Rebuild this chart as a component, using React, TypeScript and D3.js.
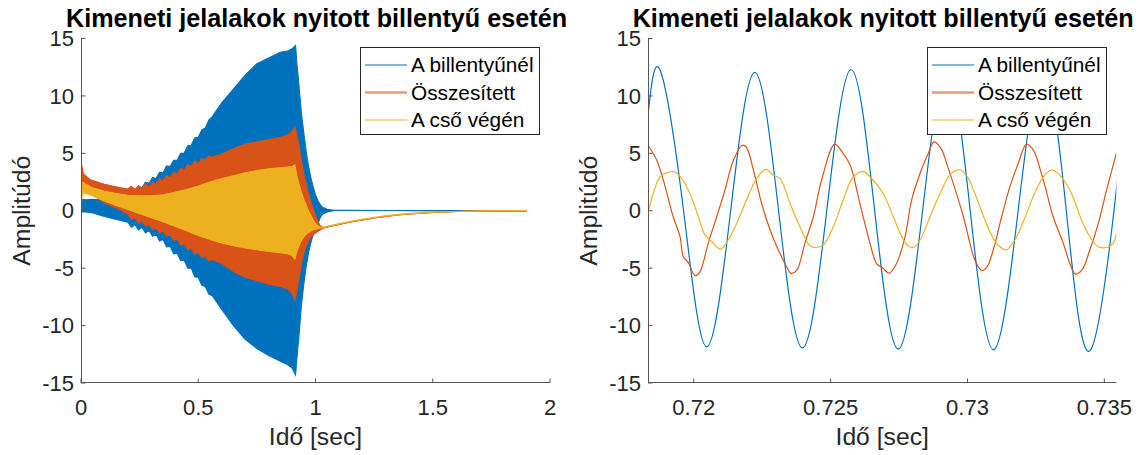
import React from "react";
import * as d3 from "d3";

// ---------- Left chart: envelopes of dense signals ----------
const blueT = [0, 0.004, 0.02, 0.05, 0.1, 0.15, 0.2,
  0.215, 0.23, 0.245, 0.26, 0.275, 0.29, 0.305, 0.32, 0.335, 0.35, 0.365, 0.38, 0.395, 0.41, 0.425, 0.44, 0.455, 0.47, 0.485, 0.5, 0.515, 0.53, 0.545, 0.56,
  0.6, 0.65, 0.7, 0.75, 0.8, 0.85, 0.88, 0.9, 0.915,
  0.92, 0.93, 0.94, 0.95, 0.96, 0.97, 0.98, 0.99, 1.0, 1.01, 1.02, 1.03,
  1.05, 1.08, 1.15, 1.3, 1.5, 1.9];
const blueUpper = [0.9, 1.0, 0.95, 1.0, 0.9, 1.0, 1.3,
  1.75, 1.6, 2.1, 2.0, 2.5, 2.4, 2.9, 2.8, 3.35, 3.3, 3.9, 3.85, 4.4, 4.4, 5.0, 5.0, 5.65, 5.7, 6.35, 6.4, 7.05, 7.2, 7.9, 8.2,
  9.4, 10.6, 11.8, 12.8, 13.3, 13.8, 13.9, 14.1, 14.4,
  13.0, 10.8, 8.5, 6.8, 5.2, 3.9, 2.9, 2.1, 1.4, 0.9, 0.55, 0.3,
  0.12, 0.05, 0.03, 0.02, 0.01, 0];
const blueLower = [-0.3, -0.1, -0.1, -0.2, -0.5, -0.75, -1.0,
  -1.45, -1.2, -1.68, -1.45, -1.93, -1.7, -2.23, -2.05, -2.63, -2.5, -3.15, -3.1, -3.75, -3.7, -4.35, -4.3, -5.0, -5.0, -5.75, -5.8, -6.5, -6.6, -7.25, -7.4,
  -8.6, -10.0, -11.2, -12.0, -12.6, -13.1, -13.4, -13.7, -14.3,
  -13.0, -10.8, -8.2, -6.4, -4.9, -3.7, -2.8, -2.1, -1.6, -1.2, -0.6, -0.3,
  -0.1, 0.02, 0.02, 0.02, 0.01, 0];

const orangeT = [0, 0.003, 0.01, 0.04, 0.1, 0.17, 0.2,
  0.215, 0.23, 0.245, 0.26, 0.275, 0.29, 0.305, 0.32, 0.335, 0.35, 0.365, 0.38, 0.395, 0.41, 0.425, 0.44, 0.455, 0.47, 0.485, 0.5, 0.515, 0.53, 0.545, 0.56,
  0.6, 0.65, 0.7, 0.75, 0.8, 0.85, 0.88, 0.9, 0.912,
  0.92, 0.93, 0.94, 0.95, 0.96, 0.97, 0.98, 0.99, 1.0, 1.01, 1.02, 1.03,
  1.05, 1.1, 1.15, 1.2, 1.25, 1.3, 1.35, 1.4, 1.5, 1.6, 1.7, 1.8, 1.9];
const orangeUpper = [0.2, 4.0, 3.2, 2.7, 2.3, 2.0, 1.9,
  2.13, 1.85, 2.2, 1.95, 2.35, 2.05, 2.53, 2.3, 2.8, 2.6, 3.08, 2.85, 3.38, 3.2, 3.7, 3.5, 4.03, 3.85, 4.33, 4.1, 4.55, 4.4, 4.78, 4.65,
  4.95, 5.4, 5.8, 6.0, 6.2, 6.4, 6.6, 6.9, 7.3,
  6.6, 5.6, 4.3, 3.2, 2.3, 1.5, 0.8, 0.2, -0.4, -0.9, -1.3, -1.45,
  -1.42, -1.2, -0.98, -0.8, -0.63, -0.49, -0.37, -0.28, -0.15, -0.07, -0.03, -0.01, 0];
const orangeLower = [0.2, 2.0, 1.8, 1.5, 0.7, 0.05, -0.3,
  -0.75, -0.6, -1.08, -0.85, -1.35, -1.15, -1.65, -1.45, -1.95, -1.75, -2.25, -2.05, -2.6, -2.45, -3.0, -2.85, -3.4, -3.25, -3.78, -3.6, -4.08, -3.95, -4.35, -4.25,
  -4.6, -5.3, -5.8, -6.1, -6.4, -6.6, -6.8, -7.2, -7.8,
  -7.0, -5.8, -4.6, -3.7, -3.1, -2.6, -2.3, -2.1, -1.95, -1.8, -1.65, -1.55,
  -1.42, -1.2, -0.98, -0.8, -0.63, -0.49, -0.37, -0.28, -0.15, -0.07, -0.03, -0.01, 0];

const yellowT = [0, 0.004, 0.008, 0.02, 0.05, 0.1, 0.15, 0.2, 0.25, 0.3, 0.35, 0.4, 0.45, 0.5, 0.55, 0.6, 0.65, 0.7, 0.75, 0.8, 0.85, 0.88, 0.9, 0.912,
  0.92, 0.93, 0.94, 0.95, 0.96, 0.97, 0.98, 0.99, 1.0, 1.01, 1.02, 1.03,
  1.05, 1.1, 1.15, 1.2, 1.25, 1.3, 1.35, 1.4, 1.5, 1.6, 1.7, 1.8, 1.9];
const yellowUpper = [0, 1.8, 2.5, 2.3, 2.0, 1.7, 1.5, 1.35, 1.3, 1.3, 1.4, 1.6, 1.85, 2.15, 2.5, 2.8, 3.05, 3.3, 3.5, 3.65, 3.75, 3.8, 3.85, 4.0,
  3.1, 2.3, 1.6, 1.0, 0.5, 0.0, -0.4, -0.8, -1.1, -1.3, -1.42, -1.45,
  -1.36, -1.14, -0.93, -0.75, -0.59, -0.45, -0.34, -0.25, -0.13, -0.06, -0.02, 0, 0];
const yellowLower = [0, 1.2, 1.6, 1.5, 1.3, 0.85, 0.45, 0.1, -0.25, -0.6, -0.95, -1.35, -1.75, -2.15, -2.5, -2.8, -3.05, -3.25, -3.4, -3.55, -3.65, -3.75, -3.9, -4.2,
  -3.6, -3.0, -2.6, -2.3, -2.05, -1.9, -1.78, -1.68, -1.6, -1.55, -1.5, -1.47,
  -1.36, -1.14, -0.93, -0.75, -0.59, -0.45, -0.34, -0.25, -0.13, -0.06, -0.02, 0, 0];

// ---------- Right chart: zoomed waveforms ----------
const blueZT = [0.71833, 0.71878, 0.71963, 0.72047, 0.72135, 0.72223, 0.7231, 0.72397, 0.72486, 0.72575, 0.72661, 0.72747, 0.72836, 0.72925, 0.7301, 0.73095, 0.73185, 0.73275, 0.73361, 0.73447, 0.73535, 0.73544];
const blueZV = [8.3, 12.2, 0, -11.85, 0, 12.05, 0, -11.95, 0, 12.3, 0, -12.05, 0, 12.3, 0, -12.1, 0, 12.3, 0, -12.2, 0, 1.95];

const orangeZT = [0.71835, 0.71865, 0.71889, 0.71925, 0.7195, 0.71962, 0.7198, 0.72005, 0.72023, 0.72053, 0.72084, 0.72114, 0.72145, 0.72177, 0.72192, 0.72218, 0.72248, 0.72279, 0.72303, 0.72321, 0.7234, 0.72355, 0.72376, 0.72406, 0.72437, 0.72467, 0.72515, 0.7254, 0.72571, 0.72607, 0.72644, 0.72668, 0.72692, 0.72714, 0.72741, 0.72772, 0.72796, 0.72827, 0.72857, 0.72878, 0.72906, 0.72924, 0.72948, 0.72985, 0.73009, 0.73027, 0.73052, 0.7307, 0.73094, 0.73125, 0.73155, 0.73185, 0.73216, 0.7324, 0.73277, 0.73313, 0.7335, 0.73374, 0.73393, 0.73417, 0.73447, 0.73478, 0.73508, 0.73544];
const orangeZV = [5.64, 4.4, 2.67, -0.52, -2.26, -4.0, -4.5, -5.65, -5.3, -2.84, -0.52, 1.8, 4.4, 5.7, 5.55, 3.55, 0.64, -1.68, -3.1, -4.0, -4.9, -5.45, -5.2, -2.84, -0.52, 2.67, 5.8, 5.2, 4.0, 0.64, -2.84, -4.6, -5.0, -5.45, -4.6, -2.26, 0.93, 3.26, 5.0, 6.0, 5.3, 4.1, 2.38, -0.52, -2.84, -4.3, -5.2, -4.95, -3.42, -0.52, 2.1, 4.1, 5.8, 5.3, 2.67, -0.52, -2.84, -4.6, -5.5, -5.2, -3.42, -1.1, 1.8, 5.0];

const yellowZT = [0.71835, 0.71852, 0.71877, 0.71901, 0.7193, 0.71956, 0.71986, 0.72017, 0.72041, 0.72066, 0.72098, 0.72126, 0.72157, 0.72193, 0.7223, 0.72262, 0.72291, 0.72315, 0.72352, 0.72388, 0.72425, 0.72445, 0.72473, 0.7251, 0.72546, 0.72583, 0.7262, 0.72644, 0.72692, 0.72729, 0.7276, 0.72784, 0.72802, 0.72827, 0.72863, 0.729, 0.72936, 0.72973, 0.73003, 0.73027, 0.73064, 0.73094, 0.73112, 0.73141, 0.73173, 0.73204, 0.7324, 0.73277, 0.73307, 0.73337, 0.73374, 0.73422, 0.73459, 0.73478, 0.73508, 0.73532, 0.73544];
const yellowZV = [0.0, 1.5, 2.96, 3.3, 3.4, 2.82, 1.5, -0.52, -2.1, -2.7, -3.35, -2.55, -1.1, 0.93, 2.82, 3.6, 3.1, 2.82, 0.64, -1.39, -3.07, -3.2, -2.99, -1.39, 0.93, 2.96, 3.4, 2.96, 1.5, -0.52, -2.26, -3.07, -3.2, -2.55, -0.52, 1.5, 3.1, 3.55, 2.82, 1.5, -0.81, -2.4, -2.99, -3.4, -2.55, -0.96, 1.22, 2.96, 3.55, 3.1, 1.8, -1.1, -2.7, -3.13, -3.2, -2.84, -1.97];

// ---------- Axes / labels ----------
const yTicks = [-15, -10, -5, 0, 5, 10, 15];
const xTicksLeft = [0, 0.5, 1, 1.5, 2];
const xTicksRight = [0.72, 0.725, 0.73, 0.735];
const seriesNames = ["A billentyűnél", "Összesített", "A cső végén"];
const titleText = "Kimeneti jelalakok nyitott billentyű esetén";
const xLabel = "Idő [sec]";
const yLabel = "Amplitúdó";

const COLORS = ["#0072BD", "#D95319", "#EDB120"];
const LEGEND_COLORS = ["#0072BD", "#E99A7C", "#EDB120"];
const LEGEND_WIDTHS = [1, 2.6, 1];
const FONT = "'Liberation Sans', Arial, Helvetica, sans-serif";
const AXIS_COLOR = "#555";
const TEXT_COLOR = "#262626";

const TOP = 38.5;
const BOTTOM = 383;

type Band = { t: number[]; up: number[]; lo: number[] };

function Axes({ x, y, xTicks, fmt, left, right, clipId, children, legendLeft }: any) {
  const cx = (left + right) / 2;
  return (
    <g>
      <defs>
        <clipPath id={clipId}>
          <rect x={left} y={TOP} width={right - left} height={BOTTOM - TOP} />
        </clipPath>
      </defs>
      <g clipPath={`url(#${clipId})`}>{children}</g>
      <line x1={Math.round(left) + 0.5} x2={Math.round(left) + 0.5} y1={TOP} y2={BOTTOM} stroke={AXIS_COLOR} strokeWidth={1} />
      <line x1={left} x2={right} y1={BOTTOM - 0.5} y2={BOTTOM - 0.5} stroke={AXIS_COLOR} strokeWidth={1} />
      {yTicks.map((v) => (
        <g key={"y" + v}>
          <line x1={left} x2={left + 4.5} y1={y(v)} y2={y(v)} stroke={AXIS_COLOR} strokeWidth={1} />
          <text x={left - 7} y={y(v)} dy="0.35em" textAnchor="end" fontSize={22} fill={TEXT_COLOR} fontFamily={FONT}>
            {v}
          </text>
        </g>
      ))}
      {xTicks.map((v: number) => (
        <g key={"x" + v}>
          <line x1={x(v)} x2={x(v)} y1={BOTTOM} y2={BOTTOM - 4.5} stroke={AXIS_COLOR} strokeWidth={1} />
          <text x={x(v)} y={415} textAnchor="middle" fontSize={22} fill={TEXT_COLOR} fontFamily={FONT}>
            {fmt(v)}
          </text>
        </g>
      ))}
      <text x={cx + 1} y={27} textAnchor="middle" fontSize={25.2} fontWeight="bold" fill="#000" fontFamily={FONT}>
        {titleText}
      </text>
      <text x={cx} y={445} textAnchor="middle" fontSize={24.7} fill={TEXT_COLOR} fontFamily={FONT}>
        {xLabel}
      </text>
      <text transform={`translate(${left - 51.5},${(TOP + BOTTOM) / 2}) rotate(-90)`} textAnchor="middle" fontSize={24.7} fill={TEXT_COLOR} fontFamily={FONT}>
        {yLabel}
      </text>
      <g transform={`translate(${legendLeft},47)`}>
        <rect x={0.5} y={0.5} width={179} height={87} fill="#fff" stroke="#262626" strokeWidth={1} />
        {seriesNames.map((n, i) => (
          <g key={n} transform={`translate(0,${18 + i * 27.5})`}>
            <line x1={5} x2={47} y1={0} y2={0} stroke={LEGEND_COLORS[i]} strokeWidth={LEGEND_WIDTHS[i]} />
            <text x={51} y={0} dy="0.35em" fontSize={20.8} fill="#000" fontFamily={FONT}>
              {n}
            </text>
          </g>
        ))}
      </g>
    </g>
  );
}

export default function App() {
  const yScale = d3.scaleLinear().domain([-15, 15]).range([BOTTOM, TOP]);
  const xL = d3.scaleLinear().domain([0, 2]).range([81, 550]);
  const xR = d3.scaleLinear().domain([0.71833, 0.73544]).range([648, 1116.4]);

  const bands: Band[] = [
    { t: blueT, up: blueUpper, lo: blueLower },
    { t: orangeT, up: orangeUpper, lo: orangeLower },
    { t: yellowT, up: yellowUpper, lo: yellowLower },
  ];

  const area = d3
    .area<[number, number, number]>()
    .x((d) => xL(d[0]))
    .y0((d) => yScale(d[2]))
    .y1((d) => yScale(d[1]));
  const lineUp = d3.line<[number, number, number]>().x((d) => xL(d[0])).y((d) => yScale(d[1]));
  const lineLo = d3.line<[number, number, number]>().x((d) => xL(d[0])).y((d) => yScale(d[2]));

  const zoomSeries = [
    { t: blueZT, v: blueZV, curve: d3.curveNatural },
    { t: orangeZT, v: orangeZV, curve: d3.curveCatmullRom.alpha(0.5) },
    { t: yellowZT, v: yellowZV, curve: d3.curveCatmullRom.alpha(0.5) },
  ];

  return (
    <svg width={1145} height={455} style={{ position: "absolute", left: 0, top: 0, background: "#fff" }}>
      <rect x={0} y={0} width={1145} height={455} fill="#fff" />
      <Axes x={xL} y={yScale} xTicks={xTicksLeft} fmt={(v: number) => String(v)} left={81} right={550} clipId="clipL" legendLeft={360}>
        {bands.map((b, i) => {
          const pts: [number, number, number][] = b.t.map((t, k) => [t, b.up[k], b.lo[k]]);
          return (
            <g key={i}>
              <path d={area(pts) || ""} fill={COLORS[i]} stroke="none" />
              <path d={lineUp(pts) || ""} fill="none" stroke={COLORS[i]} strokeWidth={1.1} />
              <path d={lineLo(pts) || ""} fill="none" stroke={COLORS[i]} strokeWidth={1.1} />
            </g>
          );
        })}
      </Axes>
      <Axes x={xR} y={yScale} xTicks={xTicksRight} fmt={(v: number) => String(v)} left={648} right={1116.4} clipId="clipR" legendLeft={927}>
        {zoomSeries.map((s, i) => {
          const line = d3
            .line<number>()
            .x((t) => xR(t))
            .y((_, k) => yScale(s.v[k]))
            .curve(s.curve);
          return <path key={i} d={line(s.t) || ""} fill="none" stroke={COLORS[i]} strokeWidth={1.2} />;
        })}
      </Axes>
    </svg>
  );
}
